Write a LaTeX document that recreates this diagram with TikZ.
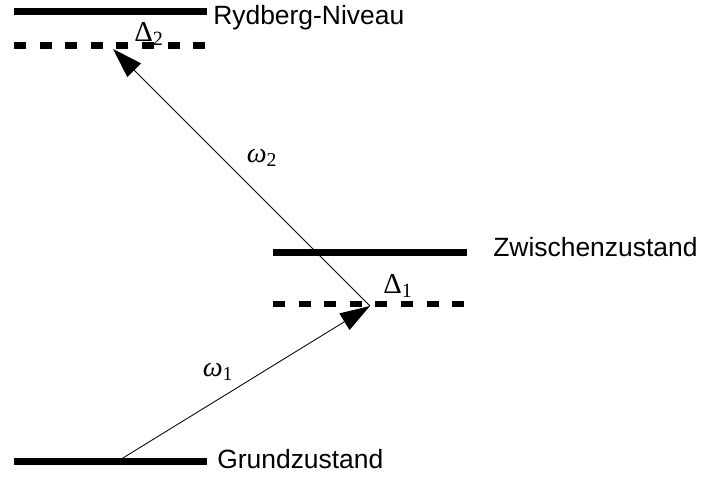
\documentclass[tikz,border=0pt]{standalone}
\usepackage{fontspec}
\setmainfont{Liberation Sans}
\newfontfamily\greekserif{Liberation Serif}
\usepackage{tikz}
\usetikzlibrary{arrows.meta}
\tikzset{
  level/.style={line width=0.155cm,line cap=butt},
  virtlevel/.style={line width=0.155cm,dash pattern=on 0.3cm off 0.34cm},
  statelabel/.style={anchor=base west,inner sep=0pt,font=\fontsize{18.8}{22}\selectfont},
  detlabel/.style={inner sep=0pt,font=\greekserif\fontsize{20.5}{22}\selectfont},
  freqlabel/.style={inner sep=0pt,font=\greekserif\itshape\fontsize{20}{22}\selectfont},
  photon/.style={-{Triangle[length=0.75cm,width=0.48cm]},line width=0.6pt}
}

\begin{document}
\begin{tikzpicture}[x=0.025cm,y=-0.025cm]
  \useasboundingbox (0,0) rectangle (704,478);
  \draw[level] (14,11.5) -- (207,11.5);
  \draw[virtlevel] (14,45.5) -- (207,45.5);
  \draw[level] (273,252.5) -- (467,252.5);
  \draw[virtlevel] (273,304) -- (467,304);
  \draw[level] (14,461.5) -- (207,461.5);
  \node[statelabel] (ryd) at (213,25) {Rydberg-Niveau};
  \node[statelabel] (zwi) at (493,256.5) {Zwischenzustand};
  \node[statelabel] (gru) at (217,468) {Grundzustand};
  \coordinate (g) at (118,461);
  \coordinate (z) at (370,306);
  \coordinate (r) at (113,49);
  \draw[photon] (g) -- (z);
  \draw[photon] (z) -- (r);
  \node[detlabel] (det2) at (149,34) {Δ\textsubscript{2}};
  \node[detlabel] (det1) at (398,286) {Δ\textsubscript{1}};
  \node[freqlabel] (om2) at (262,158) {ω\textsubscript{\upshape 2}};
  \node[freqlabel] (om1) at (218,372) {ω\textsubscript{\upshape 1}};
\end{tikzpicture}
\end{document}
